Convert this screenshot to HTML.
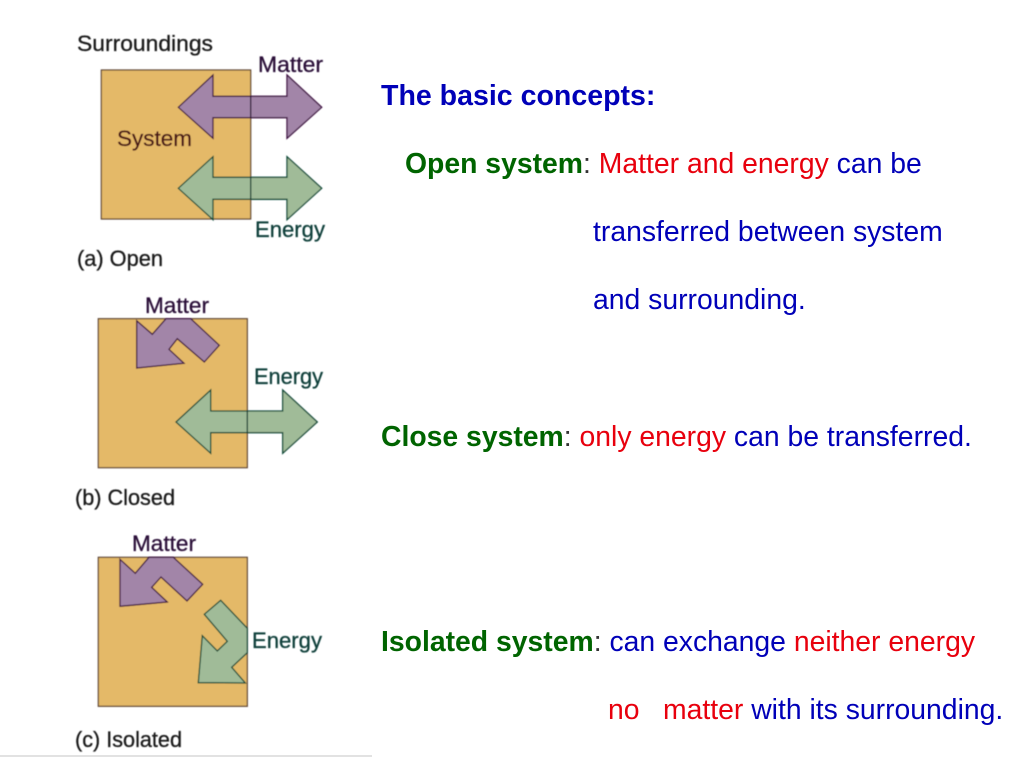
<!DOCTYPE html>
<html>
<head>
<meta charset="utf-8">
<style>
html,body{margin:0;padding:0;background:#fff;width:1024px;height:768px;overflow:hidden}
svg{display:block}
text{font-family:"Liberation Sans",sans-serif}
.t{font-size:28.35px;fill:#0000b8}
.b{font-weight:bold}
.tb{font-size:28.55px}
.g{fill:#006400}
.r{fill:#e8000d}
.k{fill:#1a1a1a;font-size:22px;stroke:#1a1a1a;stroke-width:.3}
.sq{fill:#e4b968;stroke:#5a4030;stroke-width:1.2}
.p{fill:#a285a8;stroke:#3d1040;stroke-width:1.3}
.e{fill:#a0bb98;stroke:#0d4a38;stroke-width:1.3}
.mt{fill:#2a1038;font-size:22px;stroke:#2a1038;stroke-width:.3}
.et{fill:#0d3f3a;font-size:22px;stroke:#0d3f3a;stroke-width:.3}
</style>
</head>
<body>
<svg width="1024" height="768" viewBox="0 0 1024 768" xmlns="http://www.w3.org/2000/svg">
<defs>
<filter id="soft" x="0" y="0" width="100%" height="100%" filterUnits="userSpaceOnUse" primitiveUnits="userSpaceOnUse">
<feGaussianBlur stdDeviation="0.4"/>
</filter>
</defs>
<rect width="1024" height="768" fill="#fff"/>

<g filter="url(#soft)">
<!-- (a) Open -->
<rect class="sq" x="101.3" y="70" width="149.4" height="149"/>
<polygon class="p" points="178.3,107.3 213,75 213,96.3 287,96.3 287,75 321.7,107.3 287,138.3 287,117.7 213,117.7 213,138.3"/>
<polygon class="e" points="178.3,188.3 213,156.7 213,177.3 287,177.3 287,156.7 321.7,188.3 287,219.7 287,199.3 213,199.3 213,219.7"/>
<line x1="250.7" y1="96.3" x2="250.7" y2="117.7" stroke="#2a1030" stroke-width="1.3"/>
<line x1="250.7" y1="177.3" x2="250.7" y2="199.3" stroke="#0d3a30" stroke-width="1.3"/>
<text class="k" x="77" y="51" textLength="136" lengthAdjust="spacingAndGlyphs">Surroundings</text>
<text class="mt" x="258" y="72" textLength="65" lengthAdjust="spacingAndGlyphs">Matter</text>
<text x="117" y="146" font-size="22" fill="#4a1418" stroke="#4a1418" stroke-width=".3" textLength="75" lengthAdjust="spacingAndGlyphs">System</text>
<text class="et" x="255" y="237" textLength="70" lengthAdjust="spacingAndGlyphs">Energy</text>
<text class="k" x="77" y="266" textLength="86" lengthAdjust="spacingAndGlyphs">(a) Open</text>

<!-- (b) Closed -->
<rect class="sq" x="98.3" y="318.7" width="149" height="149"/>
<polygon class="p" points="136.7,320.7 152.3,334.3 166,318.7 190.7,318.7 219.3,345.3 204.3,362 177.3,338.7 169,349.3 184,363.3 136.7,368"/>
<polygon class="e" points="176,422 210.7,390 210.7,411 282.7,411 282.7,390 317.3,422 282.7,453.3 282.7,432.7 210.7,432.7 210.7,453.3"/>
<line x1="247.3" y1="411" x2="247.3" y2="432.7" stroke="#0d3a30" stroke-width="1.3"/>
<text class="mt" x="145" y="313" textLength="64" lengthAdjust="spacingAndGlyphs">Matter</text>
<text class="et" x="254" y="384" textLength="69" lengthAdjust="spacingAndGlyphs">Energy</text>
<text class="k" x="75" y="505" textLength="100" lengthAdjust="spacingAndGlyphs">(b) Closed</text>

<!-- (c) Isolated -->
<rect class="sq" x="98.3" y="557.3" width="149" height="149"/>
<polygon class="p" points="120,559.3 135.3,573.3 149,557.3 173.3,557.3 202.7,584.3 187,601 161,577 151.7,587.3 167.3,602 120,606.3"/>
<polygon class="e" points="220.7,600.3 247.3,628.3 247.3,652.7 231.7,667.3 245.3,683 198.3,682.7 202.3,635.7 217.3,651 227.3,641.3 204.3,614.3"/>
<text class="mt" x="132" y="551" textLength="64" lengthAdjust="spacingAndGlyphs">Matter</text>
<text class="et" x="252" y="648" textLength="70" lengthAdjust="spacingAndGlyphs">Energy</text>
<text class="k" x="75" y="747" textLength="107" lengthAdjust="spacingAndGlyphs">(c) Isolated</text>
</g>
<rect x="0" y="755" width="372" height="2" fill="#e2e2e2"/>

<!-- Right text -->
<text class="t b tb" x="381" y="105">The basic concepts:</text>

<text class="t" x="405" y="173"><tspan class="b g">Open system</tspan><tspan fill="#333">: </tspan><tspan class="r">Matter and energy</tspan> can be</text>
<text class="t" x="593" y="241">transferred between system</text>
<text class="t" x="593" y="309">and surrounding.</text>

<text class="t" x="381" y="446"><tspan class="b g">Close system</tspan><tspan fill="#333">: </tspan><tspan class="r">only energy</tspan> can be transferred.</text>

<text class="t" x="381" y="651"><tspan class="b g">Isolated system</tspan><tspan fill="#333">: </tspan>can exchange <tspan class="r">neither energy</tspan></text>
<text class="t" x="608" y="719"><tspan class="r">no</tspan><tspan class="r" x="663">matter</tspan> with its surrounding.</text>
</svg>
</body>
</html>
